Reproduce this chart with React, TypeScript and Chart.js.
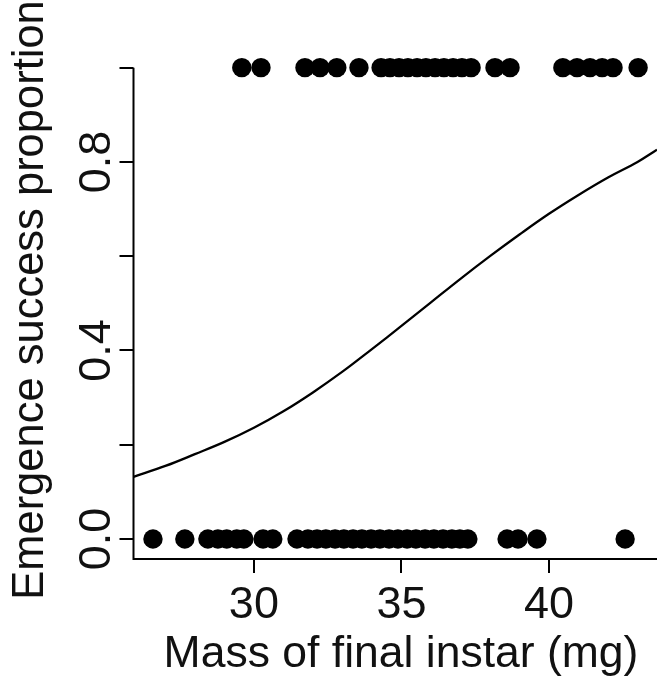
import React, { useEffect, useRef } from "react";
import { Chart, registerables } from "chart.js";

Chart.register(...registerables);

// Observed masses (mg) for larvae that emerged (success = 1)
const successMass = [
  29.59, 30.24, 31.73, 32.24, 32.81, 33.56, 34.31, 34.61, 34.92, 35.22, 35.53,
  35.83, 36.14, 36.44, 36.75, 37.05, 37.36, 38.17, 38.68, 40.47, 40.95, 41.39,
  41.8, 42.17, 43.02,
];
// Observed masses (mg) for larvae that failed (success = 0)
const failMass = [
  26.58, 27.66, 28.44, 28.78, 29.08, 29.42, 29.66, 30.31, 30.64, 31.46, 31.83,
  32.14, 32.44, 32.75, 33.05, 33.36, 33.66, 33.97, 34.27, 34.58, 34.88, 35.19,
  35.49, 35.8, 36.1, 36.41, 36.71, 36.98, 37.25, 38.58, 38.95, 39.59, 42.58,
];
// Fitted curve
const curveMass = [25.92, 27, 28, 29, 30, 31, 32, 33, 34, 35, 36, 37, 38, 39, 40, 41, 42, 43, 43.66];
const curveProb = [0.132, 0.155, 0.18, 0.206, 0.236, 0.271, 0.311, 0.355, 0.403, 0.452, 0.502, 0.552, 0.6, 0.646, 0.69, 0.73, 0.767, 0.8, 0.826];

const xTickValues = [30, 35, 40];
const xTickLabels = ["30", "35", "40"];
const yTickValues = [0, 0.2, 0.4, 0.6, 0.8, 1.0];
const yTickLabels = ["0.0", "", "0.4", "", "0.8", ""];

const xTitle = "Mass of final instar (mg)";
const yTitle = "Emergence success proportion";

const FAMILY = "'Liberation Sans', Arial, Helvetica, sans-serif";

const axesPlugin = {
  id: "rAxes",
  afterDraw(chart: any) {
    const { ctx, chartArea } = chart;
    const xs = chart.scales.x;
    const ys = chart.scales.y;
    const left = chartArea.left;
    const bottom = chartArea.bottom;
    ctx.save();
    ctx.strokeStyle = "#000";
    ctx.lineWidth = 2;
    ctx.lineCap = "butt";
    ctx.beginPath();
    ctx.moveTo(left, ys.getPixelForValue(yTickValues[yTickValues.length - 1]));
    ctx.lineTo(left, bottom);
    ctx.lineTo(chartArea.right, bottom);
    ctx.stroke();
    ctx.beginPath();
    yTickValues.forEach((v) => {
      const py = Math.round(ys.getPixelForValue(v));
      ctx.moveTo(left, py);
      ctx.lineTo(left - 14, py);
    });
    xTickValues.forEach((v) => {
      const px = Math.round(xs.getPixelForValue(v));
      ctx.moveTo(px, bottom);
      ctx.lineTo(px, bottom + 14);
    });
    ctx.stroke();

    ctx.fillStyle = "#111";
    ctx.font = "45px " + FAMILY;
    ctx.textAlign = "center";
    ctx.textBaseline = "alphabetic";
    xTickValues.forEach((v, i) => {
      ctx.fillText(xTickLabels[i], xs.getPixelForValue(v), bottom + 59);
    });
    yTickValues.forEach((v, i) => {
      if (!yTickLabels[i]) return;
      ctx.save();
      ctx.translate(110, ys.getPixelForValue(v));
      ctx.rotate(-Math.PI / 2);
      ctx.fillText(yTickLabels[i], 0, 0);
      ctx.restore();
    });
    ctx.font = "44.5px " + FAMILY;
    ctx.fillText(xTitle, 401, 667);
    ctx.font = "43.5px " + FAMILY;
    ctx.save();
    ctx.translate(43, 300);
    ctx.rotate(-Math.PI / 2);
    ctx.fillText(yTitle, 0, 0);
    ctx.restore();
    ctx.restore();
  },
};

export default function App() {
  const ref = useRef<HTMLCanvasElement | null>(null);
  useEffect(() => {
    if (!ref.current) return;
    const chart = new Chart(ref.current, {
      type: "scatter",
      data: {
        datasets: [
          {
            type: "line",
            data: curveMass.map((m, i) => ({ x: m, y: curveProb[i] })),
            borderColor: "#000",
            borderWidth: 2.3,
            pointRadius: 0,
            fill: false,
            tension: 0.4,
          } as any,
          {
            data: successMass.map((m) => ({ x: m, y: 1 })),
            backgroundColor: "#000",
            borderWidth: 0,
            pointRadius: 9.7,
          },
          {
            data: failMass.map((m) => ({ x: m, y: 0 })),
            backgroundColor: "#000",
            borderWidth: 0,
            pointRadius: 9.7,
          },
        ],
      },
      options: {
        animation: false,
        responsive: false,
        maintainAspectRatio: false,
        layout: { autoPadding: false, padding: { left: 133.5, right: 0, top: 48.8, bottom: 132 } },
        plugins: { legend: { display: false }, tooltip: { enabled: false } },
        scales: {
          x: { type: "linear", min: 25.92, max: 43.66, display: false },
          y: { type: "linear", min: -0.0424, max: 1.04, display: false },
        },
      },
      plugins: [axesPlugin],
    });
    return () => chart.destroy();
  }, []);
  return (
    <div style={{ position: "fixed", left: 0, top: 0, width: 657, height: 691, background: "#fff" }}>
      <canvas ref={ref} width={657} height={691} style={{ display: "block", width: 657, height: 691 }} />
    </div>
  );
}
